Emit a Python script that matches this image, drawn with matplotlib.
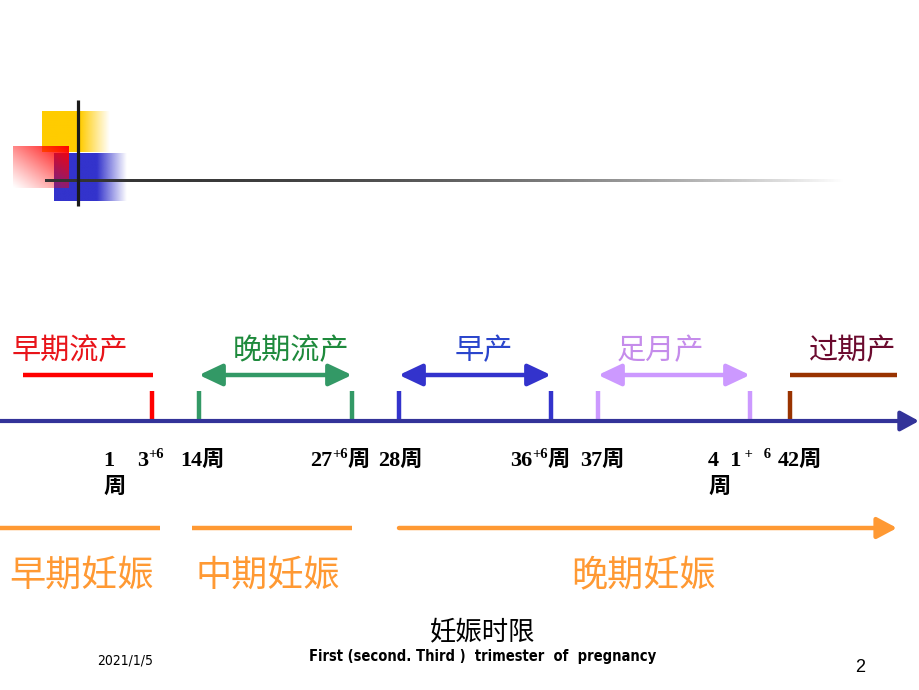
import numpy as np
import matplotlib
matplotlib.use("Agg")
import matplotlib.pyplot as plt
from matplotlib.colors import to_rgb

plt.rcParams['font.family'] = ['Noto Sans CJK SC', 'DejaVu Sans']

# ---------------- data ----------------
outcome_labels = ['早期流产', '晚期流产', '早产', '足月产', '过期产']
outcome_colors = ['#FF0000', '#339966', '#3333CC', '#CC99FF', '#993300']
outcome_text_colors = ['#E8141A', '#1E8A3C', '#2A45CC', '#C58CEB', '#6B0A2E']
outcome_double_arrow = [False, True, True, True, False]

week_main = ['1', '3', '14周', '27', '28周', '36', '37周', '4  1', '42周']
week_sup = ['', '+6', '', '+6', '', '+6', '', ' +   6', '']
week_tail = ['', '', '', '周', '', '周', '', '', '']
wrap_labels = ['周', '周']

trimester_labels = ['早期妊娠', '中期妊娠', '晚期妊娠']
trimester_arrow = [False, False, True]

title_cn = '妊娠时限'
title_en = 'First (second. Third )  trimester  of  pregnancy'
date_text = '2021/1/5'
page_text = '2'

# ---------------- layout (pixel space) ----------------
seg_x = [(23, 153), (199, 352), (399, 551), (598, 750), (790, 897)]
label_cx = [70, 291, 484, 660, 853]
tick_x = [152, 199, 352, 399, 551, 598, 750, 790]
tick_col = [0, 1, 1, 2, 2, 3, 3, 4]
week_x = [103, 137, 180, 310, 378, 510, 580, 708, 778]
wrap_x = [103, 708]
tri_seg = [(0, 160), (192, 352), (399, 897)]
tri_cx = [82, 268, 643]

fig = plt.figure(figsize=(9.2, 6.9), dpi=100)
ax = fig.add_axes([0, 0, 1, 1])
ax.axis('off')
ax.set_xlim(0, 920)
ax.set_ylim(690, 0)


def grad_img(color, alpha):
    r, g, b = to_rgb(color)
    img = np.zeros(alpha.shape + (4,))
    img[..., 0], img[..., 1], img[..., 2] = r, g, b
    img[..., 3] = alpha
    return img

# logo decoration
u = np.linspace(0, 1, 200)
a_y = np.clip(1 - (u - 0.56) / 0.44, 0, 1)[None, :]
ax.imshow(grad_img('#FFCC00', a_y), extent=(42, 110, 152, 111), aspect='auto', zorder=1, interpolation='bilinear')
a_b = np.clip(1 - (u - 0.59) / 0.41, 0, 1)[None, :]
ax.imshow(grad_img('#3333CC', a_b), extent=(54, 127, 201, 153), aspect='auto', zorder=1, interpolation='bilinear')
uu, vv = np.meshgrid(np.linspace(0, 1, 100), np.linspace(0, 1, 100))
a_r = np.clip(((uu + (1 - vv)) / 2) ** 1.1, 0, 1)
ax.imshow(grad_img('#FF0000', a_r), extent=(13, 69, 188, 146), aspect='auto', zorder=2, interpolation='bilinear')
ax.plot([78, 78], [100, 206], color='#1A1A1A', lw=2.3, zorder=4, solid_capstyle='butt')
uh = np.linspace(0, 1, 400)
a_h = np.clip(1 - uh ** 2.2, 0, 1)[None, :]
ax.imshow(grad_img('#333333', a_h), extent=(45, 845, 181.6, 178.6), aspect='auto', zorder=3, interpolation='bilinear')

# main time axis
ax.annotate('', xy=(919, 421), xytext=(0, 421),
            arrowprops=dict(arrowstyle='-|>,head_length=0.55,head_width=0.3', lw=3,
                            color='#333399', shrinkA=0, shrinkB=0, mutation_scale=20))

# outcome segments & labels
for lab, (x0, x1), cx, c, tc, dbl in zip(outcome_labels, seg_x, label_cx, outcome_colors,
                                        outcome_text_colors, outcome_double_arrow):
    if dbl:
        ax.annotate('', xy=(x1, 375), xytext=(x0, 375),
                    arrowprops=dict(arrowstyle='<|-|>,head_length=0.7,head_width=0.33', lw=3.2,
                                    color=c, shrinkA=0, shrinkB=0, mutation_scale=20))
    else:
        ax.plot([x0, x1], [375, 375], color=c, lw=3.2, solid_capstyle='butt')
    ax.text(cx, 351, lab, color=tc, fontsize=21, ha='center', va='center')

for x, ci in zip(tick_x, tick_col):
    ax.plot([x, x], [391, 420], color=outcome_colors[ci], lw=3.2, solid_capstyle='butt')

# week labels
wfam = ['Liberation Serif', 'Noto Sans CJK SC']
wkw = dict(family=wfam, weight='bold', color='black')
for main, sup, tail, x in zip(week_main, week_sup, week_tail, week_x):
    t = ax.text(x, 466, main, fontsize=16, ha='left', va='baseline', **wkw)
    last = t
    if sup:
        last = ax.annotate(sup, xy=(1, 1), xycoords=t, xytext=(0, 2), textcoords='offset points',
                           fontsize=10.5, ha='left', va='top', **wkw)
    if tail:
        ax.annotate(tail, xy=(1, 0), xycoords=(last, t), xytext=(0, 0), textcoords='offset points',
                    fontsize=16, ha='left', va='bottom', **wkw)
for lab, x in zip(wrap_labels, wrap_x):
    ax.text(x, 493, lab, fontsize=16, ha='left', va='baseline', **wkw)

# trimester segments & labels
for lab, (x0, x1), cx, arr in zip(trimester_labels, tri_seg, tri_cx, trimester_arrow):
    if arr:
        ax.annotate('', xy=(x1, 528), xytext=(x0, 528),
                    arrowprops=dict(arrowstyle='-|>,head_length=0.6,head_width=0.32', lw=3.2,
                                    color='#FF9933', shrinkA=0, shrinkB=0, mutation_scale=20))
    else:
        ax.plot([x0, x1], [528, 528], color='#FF9933', lw=3.2, solid_capstyle='butt')
    ax.text(cx, 576, lab, color='#FF9933', fontsize=26, ha='center', va='center')

# bottom texts
ax.text(483, 632, title_cn, fontsize=19, ha='center', va='center', color='black')
ax.text(483, 657, title_en, fontsize=10.5, weight='bold', ha='center', va='center',
        family='DejaVu Sans', stretch='condensed', color='black')
ax.text(125, 660, date_text, fontsize=10, ha='center', va='center',
        family='DejaVu Sans', stretch='condensed', color='black')
ax.text(860, 667, page_text, fontsize=13, ha='center', va='center',
        family=['Liberation Sans', 'DejaVu Sans'], color='black')

fig.savefig('out.png', dpi=100)
